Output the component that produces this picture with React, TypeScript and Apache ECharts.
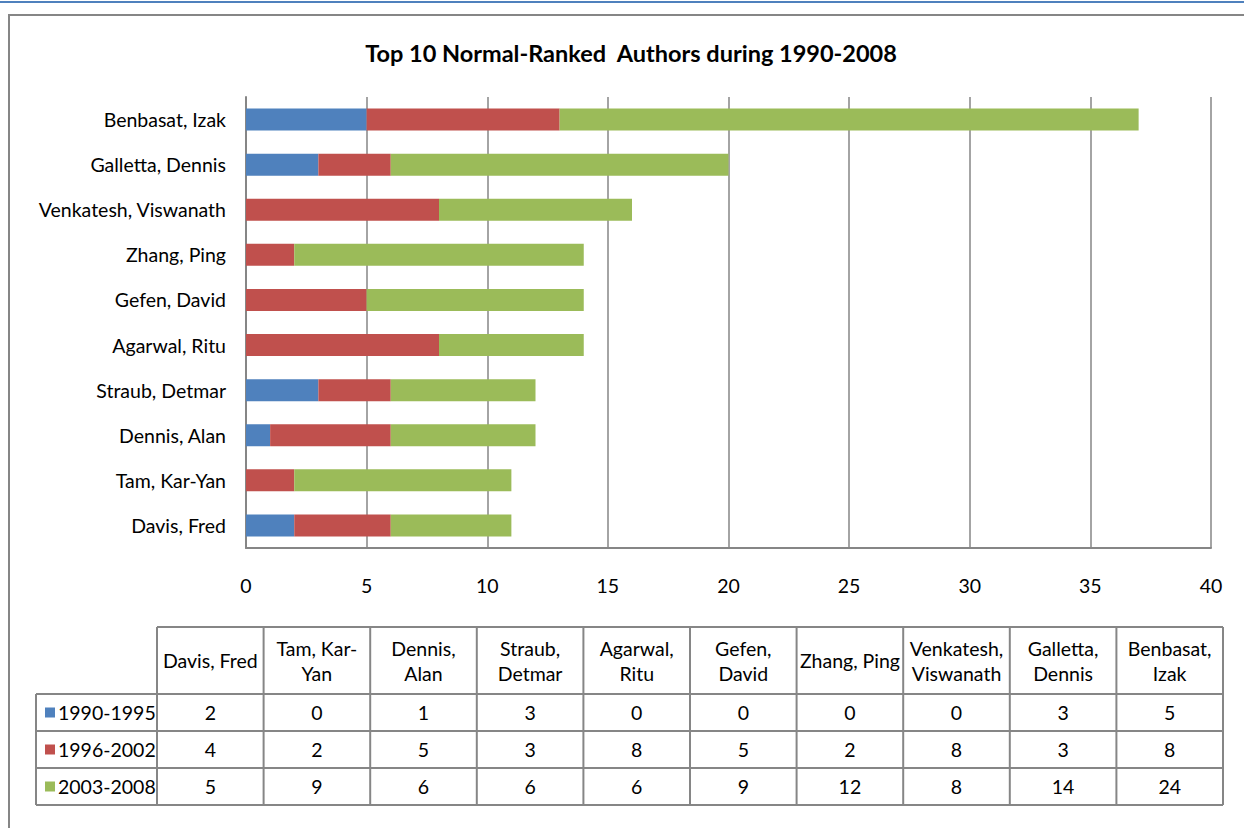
import React, { useEffect, useRef } from "react";
import * as echarts from "echarts";

const chartTitle = "Top 10 Normal-Ranked  Authors during 1990-2008";
const categories = [
  "Davis, Fred",
  "Tam, Kar-Yan",
  "Dennis, Alan",
  "Straub, Detmar",
  "Agarwal, Ritu",
  "Gefen, David",
  "Zhang, Ping",
  "Venkatesh, Viswanath",
  "Galletta, Dennis",
  "Benbasat, Izak",
];
const tableHeaders = [
  "Davis, Fred",
  "Tam, Kar-\nYan",
  "Dennis,\nAlan",
  "Straub,\nDetmar",
  "Agarwal,\nRitu",
  "Gefen,\nDavid",
  "Zhang, Ping",
  "Venkatesh,\nViswanath",
  "Galletta,\nDennis",
  "Benbasat,\nIzak",
];
const seriesNames = ["1990-1995", "1996-2002", "2003-2008"];
const period1990 = [2, 0, 1, 3, 0, 0, 0, 0, 3, 5];
const period1996 = [4, 2, 5, 3, 8, 5, 2, 8, 3, 8];
const period2003 = [5, 9, 6, 6, 6, 9, 12, 8, 14, 24];
const seriesData = [period1990, period1996, period2003];
const colors = ["#4f81bd", "#c0504d", "#9bbb59"];

const FONT = "Lato, 'Open Sans', sans-serif";
const GRAY = "#868686";
const FS = 19.5;

export default function App() {
  const ref = useRef<HTMLDivElement>(null);
  useEffect(() => {
    document.body.style.margin = "0";
    if (!ref.current) return;
    const chart = echarts.init(ref.current, undefined, { renderer: "svg" });

    // table layout
    const tLeft = 157;
    const tRight = 1223;
    const colW = (tRight - tLeft) / categories.length;
    const headTop = 627;
    const headBottom = 694;
    const rowH = 37;
    const labLeft = 36;
    const tBottom = headBottom + rowH * seriesNames.length;

    const graphic: any[] = [];
    graphic.push({
      type: "rect",
      shape: { x: 0, y: 1, width: 1244, height: 2 },
      style: { fill: "#4f81bd" },
      silent: true,
    });
    graphic.push({
      type: "rect",
      shape: { x: 9, y: 15, width: 1300, height: 900 },
      style: { fill: "none", stroke: GRAY, lineWidth: 2 },
      silent: true,
    });
    graphic.push({
      type: "text",
      x: 631,
      y: 53,
      style: {
        text: chartTitle,
        font: `bold 23.5px ${FONT}`,
        fill: "#000",
        textAlign: "center",
        textVerticalAlign: "middle",
      },
    });
    const lineStyle = { stroke: GRAY, lineWidth: 2 };
    graphic.push({ type: "line", shape: { x1: tLeft, y1: headTop, x2: tRight, y2: headTop }, style: lineStyle });
    for (let r = 0; r <= seriesNames.length; r++) {
      const y = headBottom + r * rowH;
      graphic.push({ type: "line", shape: { x1: labLeft, y1: y, x2: tRight, y2: y }, style: lineStyle });
    }
    graphic.push({ type: "line", shape: { x1: labLeft, y1: headBottom, x2: labLeft, y2: tBottom }, style: lineStyle });
    for (let c = 0; c <= categories.length; c++) {
      const x = tLeft + c * colW;
      graphic.push({ type: "line", shape: { x1: x, y1: headTop, x2: x, y2: tBottom }, style: lineStyle });
    }
    tableHeaders.forEach((h, c) => {
      graphic.push({
        type: "text",
        x: tLeft + (c + 0.5) * colW,
        y: (headTop + headBottom) / 2,
        style: {
          text: h,
          font: `${FS}px ${FONT}`,
          lineHeight: 25,
          fill: "#000",
          textAlign: "center",
          textVerticalAlign: "middle",
        },
      });
    });
    seriesNames.forEach((name, r) => {
      const cy = headBottom + (r + 0.5) * rowH;
      graphic.push({
        type: "rect",
        shape: { x: 45, y: cy - 5, width: 10, height: 10 },
        style: { fill: colors[r] },
      });
      graphic.push({
        type: "text",
        x: 58,
        y: cy,
        style: {
          text: name,
          font: `${FS}px ${FONT}`,
          fill: "#000",
          textAlign: "left",
          textVerticalAlign: "middle",
        },
      });
      seriesData[r].forEach((v, c) => {
        graphic.push({
          type: "text",
          x: tLeft + (c + 0.5) * colW,
          y: cy,
          style: {
            text: String(v),
            font: `${FS}px ${FONT}`,
            fill: "#000",
            textAlign: "center",
            textVerticalAlign: "middle",
          },
        });
      });
    });

    chart.setOption({
      animation: false,
      backgroundColor: "#ffffff",
      grid: { left: 246, right: 33, top: 97, bottom: 280, containLabel: false },
      xAxis: {
        type: "value",
        min: 0,
        max: 40,
        interval: 5,
        axisLine: { show: true, lineStyle: { color: GRAY, width: 2 } },
        axisTick: { show: false },
        splitLine: { show: true, lineStyle: { color: GRAY, width: 1.5 } },
        axisLabel: { color: "#000", fontSize: FS, fontFamily: FONT, margin: 27 },
      },
      yAxis: {
        type: "category",
        data: categories,
        axisLine: { show: true, lineStyle: { color: GRAY, width: 2 } },
        axisTick: { show: false },
        axisLabel: { color: "#000", fontSize: FS, fontFamily: FONT, margin: 20 },
      },
      series: seriesNames.map((name, i) => ({
        name,
        type: "bar",
        stack: "total",
        barWidth: 22,
        data: seriesData[i],
        itemStyle: { color: colors[i] },
      })),
      graphic,
    });
    return () => chart.dispose();
  }, []);
  return <div ref={ref} style={{ width: 1244, height: 828 }} />;
}
